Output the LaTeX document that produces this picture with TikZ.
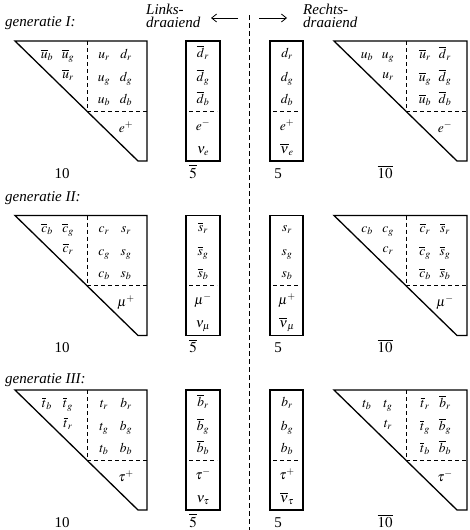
\documentclass[tikz,border=0pt]{standalone}
\usepackage{mathptmx}
\usepackage[no-math]{fontspec}
\setmainfont{Liberation Serif}
\usepackage{tikz}
\usetikzlibrary{arrows.meta,positioning}
\tikzset{
  frameline/.style={line width=1.3pt,line join=miter},
  splitline/.style={dash pattern=on 4pt off 3pt,line width=0.7pt},
  mirrorline/.style={dash pattern=on 5pt off 3pt,line width=1pt},
  entry/.style={anchor=base,inner sep=0pt,font=\fontsize{13.5}{15}\selectfont},
  replabel/.style={anchor=base,inner sep=0pt,font=\fontsize{15}{16}\selectfont},
  genlabel/.style={anchor=base west,inner sep=0pt,font=\fontsize{15}{16}\selectfont\itshape},
  handtext/.style={anchor=north west,inner sep=0pt,align=left,font=\fontsize{15}{13}\selectfont\itshape},
  handarrow/.style={-{Straight Barb[length=5pt,width=8pt]},line width=0.8pt}
}

\begin{document}
\begin{tikzpicture}[x=1pt,y=-1pt]
  \useasboundingbox (0,0) rectangle (470,530);
  % links / rechts
  \node[handtext] (links) at (146,4) {Links-\\draaiend};
  \node[handtext] (rechts) at (303,4) {Rechts-\\draaiend};
  \coordinate (mirrortop) at (249,15);
  \coordinate (mirrorbot) at (249,530);
  \draw[mirrorline] (mirrortop) -- (mirrorbot);
  \coordinate (lstart) at (238,18);
  \coordinate (ltip) at (211,18);
  \coordinate (rstart) at (259,18);
  \coordinate (rtip) at (287,18);
  \draw[handarrow] (lstart) -- (ltip);
  \draw[handarrow] (rstart) -- (rtip);
  % one row per generation
  \foreach \g/\gtop/\qup/\qdn/\lep/\gname/\glab in {
      1/41/u/d/e/I/-14,
      2/215.5/c/s/\mu/II/-14,
      3/390/t/b/\tau/III/-7}{
    \begin{scope}[shift={(0,\gtop)}]
      \node[genlabel] (gen\g) at (5,\glab) {generatie \gname:};
      % 10
      \draw[frameline] (15,0) -- (147,0) -- (147,120) -- (138,120) -- cycle;
      \draw[splitline] (87,0) -- (87,70) -- (147,70);
      \node[entry] (lbb\g) at (47,17) {$\overline{\qup}_b$};
      \node[entry] (lbg\g) at (68,17) {$\overline{\qup}_g$};
      \node[entry] (lbr\g) at (68,37) {$\overline{\qup}_r$};
      \node[entry] (lur\g) at (104,17) {$\qup_r$};
      \node[entry] (ldr\g) at (126,17) {$\qdn_r$};
      \node[entry] (lug\g) at (104,40) {$\qup_g$};
      \node[entry] (ldg\g) at (126,40) {$\qdn_g$};
      \node[entry] (lub\g) at (104,62) {$\qup_b$};
      \node[entry] (ldb\g) at (126,62) {$\qdn_b$};
      \node[entry] (llep\g) at (126,91) {$\lep^+$};
      \node[replabel] (ten\g) at (62,137) {10};
      % 5bar
      \draw[frameline] (186,0) rectangle (220,120);
      \draw[splitline] (189,70) -- (217,70);
      \node[entry] (fbr\g) at (203,16) {$\overline{\qdn}_r$};
      \node[entry] (fbg\g) at (203,40) {$\overline{\qdn}_g$};
      \node[entry] (fbb\g) at (203,62) {$\overline{\qdn}_b$};
      \node[entry] (fblep\g) at (203,89) {$\lep^-$};
      \node[entry] (fbnu\g) at (203,112) {$\nu_{\lep}$};
      \node[replabel] (fivebar\g) at (193,137) {$\overline{5}$};
      % 5
      \draw[frameline] (270,0) rectangle (303,120);
      \draw[splitline] (273,70) -- (300,70);
      \node[entry] (fr\g) at (287,16) {$\qdn_r$};
      \node[entry] (fg\g) at (287,40) {$\qdn_g$};
      \node[entry] (fb\g) at (287,62) {$\qdn_b$};
      \node[entry] (flep\g) at (287,89) {$\lep^+$};
      \node[entry] (fnu\g) at (287,112) {$\overline{\nu}_{\lep}$};
      \node[replabel] (five\g) at (278,137) {5};
      % 10bar
      \draw[frameline] (334,0) -- (467,0) -- (467,120) -- (457,120) -- cycle;
      \draw[splitline] (406,0) -- (406,70) -- (467,70);
      \node[entry] (rub\g) at (367,17) {$\qup_b$};
      \node[entry] (rug\g) at (388,17) {$\qup_g$};
      \node[entry] (rur\g) at (388,37) {$\qup_r$};
      \node[entry] (rbur\g) at (425,17) {$\overline{\qup}_r$};
      \node[entry] (rbdr\g) at (445,17) {$\overline{\qdn}_r$};
      \node[entry] (rbug\g) at (425,40) {$\overline{\qup}_g$};
      \node[entry] (rbdg\g) at (445,40) {$\overline{\qdn}_g$};
      \node[entry] (rbub\g) at (425,62) {$\overline{\qup}_b$};
      \node[entry] (rbdb\g) at (445,62) {$\overline{\qdn}_b$};
      \node[entry] (rlep\g) at (445,91) {$\lep^-$};
      \node[replabel] (tenbar\g) at (385,137) {$\overline{10}$};
    \end{scope}
  }
\end{tikzpicture}
\end{document}
